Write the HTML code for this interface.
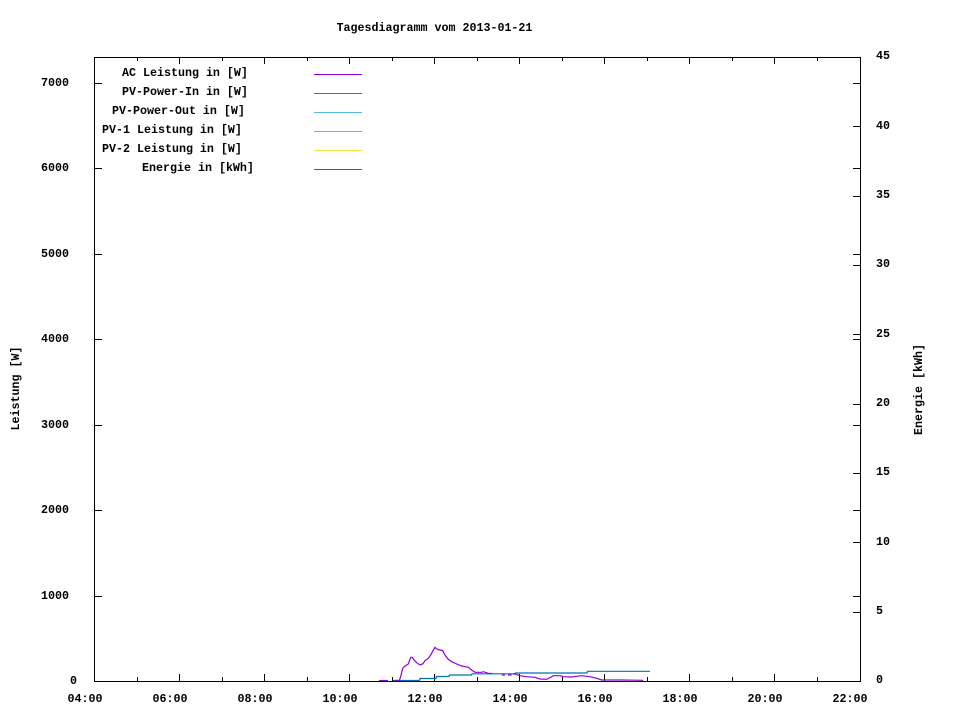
<!DOCTYPE html>
<html>
<head>
<meta charset="utf-8">
<style>
html,body{margin:0;padding:0;background:#fff;}
svg{display:block;}
text{font-family:"Liberation Mono","DejaVu Sans Mono",monospace;font-weight:bold;font-size:11.67px;fill:#000;}
</style>
</head>
<body>
<svg width="960" height="720" viewBox="0 0 960 720" xmlns="http://www.w3.org/2000/svg">
<rect x="0" y="0" width="960" height="720" fill="#fff"/>

<!-- title -->
<text x="434.5" y="31" text-anchor="middle">Tagesdiagramm vom 2013-01-21</text>

<!-- axis titles -->
<text transform="translate(19,388.5) rotate(-90)" text-anchor="middle">Leistung [W]</text>
<text transform="translate(922,389.5) rotate(-90)" text-anchor="middle">Energie [kWh]</text>

<g stroke="#000" stroke-width="1" shape-rendering="crispEdges" fill="none">
<!-- border -->
<rect x="94.5" y="57.5" width="766" height="624"/>
<!-- x major ticks bottom & top -->
<path d="M179.5,681V674 M264.5,681V674 M349.5,681V674 M434.5,681V674 M519.5,681V674 M604.5,681V674 M689.5,681V674 M774.5,681V674
M179.5,58V64 M264.5,58V64 M349.5,58V64 M434.5,58V64 M519.5,58V64 M604.5,58V64 M689.5,58V64 M774.5,58V64"/>
<!-- x minor ticks -->
<path d="M137.5,681V677 M222.5,681V677 M307.5,681V677 M392.5,681V677 M477.5,681V677 M562.5,681V677 M647.5,681V677 M732.5,681V677 M817.5,681V677
M137.5,58V61 M222.5,58V61 M307.5,58V61 M392.5,58V61 M477.5,58V61 M562.5,58V61 M647.5,58V61 M732.5,58V61 M817.5,58V61"/>
<!-- left y ticks + mirror on right -->
<path d="M95,596.5H102 M95,510.5H102 M95,425.5H102 M95,339.5H102 M95,254.5H102 M95,168.5H102 M95,83.5H102
M860,596.5H853 M860,510.5H853 M860,425.5H853 M860,339.5H853 M860,254.5H853 M860,168.5H853 M860,83.5H853"/>
<!-- y2 ticks -->
<path d="M860,612.5H853 M860,542.5H853 M860,473.5H853 M860,404.5H853 M860,334.5H853 M860,265.5H853 M860,196.5H853 M860,126.5H853"/>
</g>

<!-- left tick labels -->
<text x="70" y="684">0</text>
<text x="41" y="599">1000</text>
<text x="41" y="513">2000</text>
<text x="41" y="428">3000</text>
<text x="41" y="342">4000</text>
<text x="41" y="257">5000</text>
<text x="41" y="171">6000</text>
<text x="41" y="86">7000</text>

<!-- right tick labels -->
<text x="876" y="683">0</text>
<text x="876" y="614">5</text>
<text x="876" y="545">10</text>
<text x="876" y="475">15</text>
<text x="876" y="406">20</text>
<text x="876" y="337">25</text>
<text x="876" y="267">30</text>
<text x="876" y="198">35</text>
<text x="876" y="129">40</text>
<text x="876" y="59">45</text>

<!-- x tick labels -->
<g text-anchor="middle">
<text x="85" y="702">04:00</text>
<text x="170" y="702">06:00</text>
<text x="255" y="702">08:00</text>
<text x="340" y="702">10:00</text>
<text x="425" y="702">12:00</text>
<text x="510" y="702">14:00</text>
<text x="595" y="702">16:00</text>
<text x="680" y="702">18:00</text>
<text x="765" y="702">20:00</text>
<text x="850" y="702">22:00</text>
</g>

<!-- legend -->
<text x="122" y="76">AC Leistung in [W]</text>
<text x="122" y="95">PV-Power-In in [W]</text>
<text x="112" y="114">PV-Power-Out in [W]</text>
<text x="102" y="133">PV-1 Leistung in [W]</text>
<text x="102" y="152">PV-2 Leistung in [W]</text>
<text x="142" y="171">Energie in [kWh]</text>
<g stroke-width="1" shape-rendering="crispEdges">
<line x1="314" y1="74.5" x2="362" y2="74.5" stroke="#9400d3"/>
<line x1="314" y1="93.5" x2="362" y2="93.5" stroke="#009e73"/>
<line x1="314" y1="112.5" x2="362" y2="112.5" stroke="#56b4e9"/>
<line x1="314" y1="131.5" x2="362" y2="131.5" stroke="#e69f00"/>
<line x1="314" y1="150.5" x2="362" y2="150.5" stroke="#f0e442"/>
<line x1="314" y1="169.5" x2="362" y2="169.5" stroke="#0072b2"/>
</g>

<!-- energy series -->
<polyline fill="none" stroke="#0072b2" stroke-width="1.2"
points="393,680.5 419.5,680.5 420,678.5 436,678.5 436.5,676.5 449,676.5 449.5,675 471.5,675 472,673.8 515,673.8 515.5,673 587,673 587.5,671.3 650,671.3"/>

<!-- AC series -->
<polyline fill="none" stroke="#9400d3" stroke-width="1.2"
points="379,680.5 388,680.5"/>
<polyline fill="none" stroke="#9400d3" stroke-width="1.2"
points="395,680.5 399.3,680.5 400.7,676.7 402.7,668.3 405,666 408.3,664 410.7,657.3 412.3,657.3 414,660 416.7,662.7 420,665 422.7,664 425,660.7 428.3,658.3 430.7,655 433.3,650 435,647.3 436.7,649 440,650 442.7,650.7 445,655 448.3,659.3 451.7,661.7 456.7,664 461.7,666 468.3,667.3 471.7,670 475,672.3 481.7,672.3 483.3,671.7 488.3,673.3 492,673.5"/>
<polyline fill="none" stroke="#9400d3" stroke-width="1.2" points="501.7,675 505,675"/>
<polyline fill="none" stroke="#9400d3" stroke-width="1.2" points="508,675 511.7,675"/>
<polyline fill="none" stroke="#9400d3" stroke-width="1.2"
points="513,674 515,674 520,675.7 526.7,676.7 535,677.3 540,679 546.7,679.3 550,677.7 553.3,675.7 560,675.7 563.3,676.7 571.7,677 576.7,676.3 581.7,675.7 590,676.7 596.7,678.3 601.7,680 620,680 643.3,680.3"/>
</svg>
</body>
</html>
